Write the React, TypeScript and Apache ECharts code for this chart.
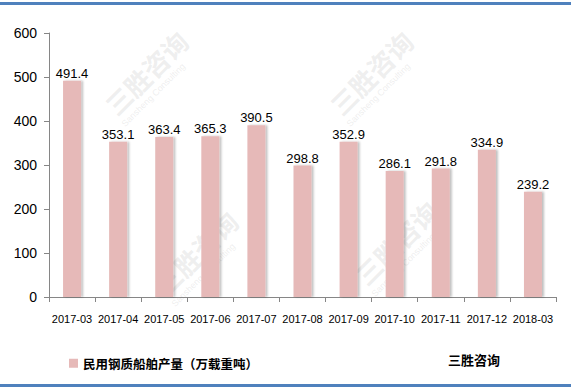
import React, { useEffect, useRef } from "react";
import * as echarts from "echarts";

const categories = ["2017-03", "2017-04", "2017-05", "2017-06", "2017-07", "2017-08", "2017-09", "2017-10", "2017-11", "2017-12", "2018-03"];
const production = [491.4, 353.1, 363.4, 365.3, 390.5, 298.8, 352.9, 286.1, 291.8, 334.9, 239.2];
const yTicks = [0, 100, 200, 300, 400, 500, 600];
const seriesName = "民用钢质船舶产量（万载重吨）";
const brand = "三胜咨询";

export default function App() {
  const ref = useRef<HTMLDivElement>(null);
  useEffect(() => {
    if (!ref.current) return;
    const chart = echarts.init(ref.current, null, { renderer: "svg" });
    const wm = (x: number, y: number) => [
      {
        type: "text",
        x,
        y,
        rotation: Math.PI / 4,
        z: 0,
        style: { text: brand, fontSize: 26, fontWeight: "bold", fill: "rgba(200,200,200,0.3)", fontFamily: "Noto Sans CJK SC" },
      },
      {
        type: "text",
        x: x + 20,
        y: y + 22,
        rotation: Math.PI / 4,
        z: 0,
        style: { text: "Sansheng Consulting", fontSize: 9, fill: "rgba(200,200,200,0.3)", fontFamily: "Liberation Sans" },
      },
    ];
    chart.setOption({
      animation: false,
      backgroundColor: "#ffffff",
      grid: { left: 49, right: 15, top: 33, bottom: 92 },
      xAxis: {
        type: "category",
        data: categories,
        axisLine: { lineStyle: { color: "#868686" } },
        axisTick: { show: true, alignWithLabel: false, length: 5, lineStyle: { color: "#868686" } },
        axisLabel: { color: "#000", fontSize: 11, fontFamily: "Liberation Sans", margin: 16, interval: 0 },
      },
      yAxis: {
        type: "value",
        min: yTicks[0],
        max: yTicks[yTicks.length - 1],
        interval: 100,
        axisLine: { show: true, lineStyle: { color: "#868686" } },
        axisTick: { show: true, length: 5, lineStyle: { color: "#868686" } },
        splitLine: { show: false },
        axisLabel: { color: "#000", fontSize: 14, fontFamily: "Liberation Sans", margin: 12 },
      },
      legend: {
        show: true,
        left: 64,
        top: 352,
        itemWidth: 9,
        itemHeight: 9,
        itemGap: 6,
        icon: "rect",
        textStyle: { color: "#000", fontSize: 12.5, fontWeight: "bold", fontFamily: "Noto Sans CJK SC" },
        data: [seriesName],
      },
      graphic: [
        ...wm(100, 100),
        ...wm(325, 100),
        ...wm(150, 280),
        ...wm(350, 270),
        { type: "rect", shape: { x: 0, y: 2, width: 571, height: 3 }, style: { fill: "#4F81BD" } },
        { type: "rect", shape: { x: 0, y: 384, width: 571, height: 3 }, style: { fill: "#4F81BD" } },
        {
          type: "text",
          left: 448,
          top: 353,
          style: { text: brand, fontSize: 13, fontWeight: "bold", fill: "#000", fontFamily: "Noto Sans CJK SC" },
        },
      ],
      series: [
        {
          name: seriesName,
          type: "bar",
          data: production,
          barWidth: 18,
          itemStyle: {
            color: "#E6B9B8",
            shadowColor: "rgba(0,0,0,0.25)",
            shadowOffsetX: 2,
            shadowOffsetY: 0,
            shadowBlur: 2,
          },
          label: {
            show: true,
            position: "top",
            distance: 1,
            color: "#000",
            fontSize: 13,
            fontFamily: "Liberation Sans",
          },
        },
      ],
    });
    return () => chart.dispose();
  }, []);
  return <div ref={ref} style={{ width: 571, height: 389, position: "absolute", left: 0, top: 0 }} />;
}
